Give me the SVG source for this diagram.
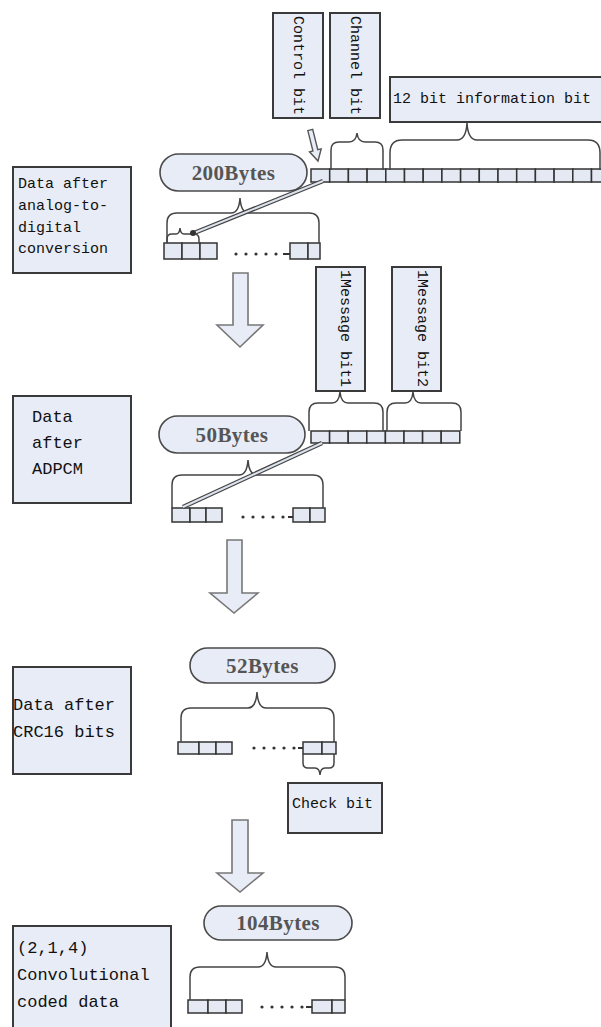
<svg xmlns="http://www.w3.org/2000/svg" width="601" height="1027" viewBox="0 0 601 1027">
<style>
.box{fill:#e8ecf6;stroke:#3a3a3a;stroke-width:2}
.stad{fill:#e8ecf6;stroke:#4a4a4a;stroke-width:1.6}
.cell{fill:#e4e9f3;stroke:#333;stroke-width:1.5}
.brace{fill:none;stroke:#444;stroke-width:1.5}
.big{fill:#e8ecf6;stroke:#777;stroke-width:1.6}
.small{fill:#e8ecf6;stroke:#555;stroke-width:1.4}
.mono{font-family:"Liberation Mono","DejaVu Sans Mono",monospace;fill:#111}
.m15{font-size:15px}
.m17{font-size:17px}
.st{font-family:"Liberation Serif","DejaVu Serif",serif;font-weight:bold;font-size:21px;fill:#555;text-anchor:middle;letter-spacing:0.4px}
.dot{fill:#333}
.dl1{stroke:#444;stroke-width:4.5;fill:none}
.dl2{stroke:#dde3ee;stroke-width:2;fill:none}
</style>
<rect width="601" height="1027" fill="#ffffff"/>

<!-- Stage 1 -->
<g id="control-bit">
<rect class="box" x="273" y="13" width="50" height="105"/>
<text class="mono m15" transform="translate(294,16) rotate(90)">Control bit</text>
</g>
<g id="channel-bit">
<rect class="box" x="330" y="13" width="50" height="105"/>
<text class="mono m15" transform="translate(351,16) rotate(90)">Channel bit</text>
</g>
<g id="info-bit">
<rect class="box" x="390" y="77" width="215" height="45"/>
<text class="mono m15" x="393" y="103">12 bit information bit</text>
</g>
<g id="label-adc">
<rect class="box" x="13" y="167" width="118" height="106"/>
<text class="mono m15" x="18" y="188">Data after</text>
<text class="mono m15" x="18" y="210">analog-to-</text>
<text class="mono m15" x="18" y="232">digital</text>
<text class="mono m15" x="18" y="253">conversion</text>
</g>
<g id="bytes200">
<rect class="stad" x="160" y="154" width="147" height="37" rx="18.5"/>
<text class="st" x="233.5" y="180">200Bytes</text>
</g>
<g id="row-sample">
<rect class="cell" x="311" y="169" width="18.7" height="13"/>
<rect class="cell" x="329.7" y="169" width="18.7" height="13"/>
<rect class="cell" x="348.4" y="169" width="18.7" height="13"/>
<rect class="cell" x="367.1" y="169" width="18.7" height="13"/>
<rect class="cell" x="385.8" y="169" width="18.7" height="13"/>
<rect class="cell" x="404.5" y="169" width="18.7" height="13"/>
<rect class="cell" x="423.2" y="169" width="18.7" height="13"/>
<rect class="cell" x="441.9" y="169" width="18.7" height="13"/>
<rect class="cell" x="460.6" y="169" width="18.7" height="13"/>
<rect class="cell" x="479.3" y="169" width="18.7" height="13"/>
<rect class="cell" x="498" y="169" width="18.7" height="13"/>
<rect class="cell" x="516.7" y="169" width="18.7" height="13"/>
<rect class="cell" x="535.4" y="169" width="18.7" height="13"/>
<rect class="cell" x="554.1" y="169" width="18.7" height="13"/>
<rect class="cell" x="572.8" y="169" width="18.7" height="13"/>
<rect class="cell" x="591.5" y="169" width="18.7" height="13"/>
</g>
<g id="row-200">
<rect class="cell" x="164" y="243" width="18" height="16"/>
<rect class="cell" x="182" y="243" width="18" height="16"/>
<rect class="cell" x="200" y="243" width="17" height="16"/>
<circle class="dot" cx="236" cy="254" r="1.6"/>
<circle class="dot" cx="246" cy="254" r="1.6"/>
<circle class="dot" cx="256" cy="254" r="1.6"/>
<circle class="dot" cx="266" cy="254" r="1.6"/>
<circle class="dot" cx="276" cy="254" r="1.6"/>
<line x1="283" y1="254" x2="290" y2="254" stroke="#333" stroke-width="2"/>
<rect class="cell" x="290" y="243" width="18" height="16"/>
<rect class="cell" x="308" y="243" width="12" height="16"/>
</g>

<!-- Stage 2 -->
<g id="msg-bit1">
<rect class="box" x="316" y="267" width="49" height="124"/>
<text class="mono m15" transform="translate(341,270) rotate(90)">1Message bit1</text>
</g>
<g id="msg-bit2">
<rect class="box" x="392" y="267" width="49" height="124"/>
<text class="mono m15" transform="translate(418,270) rotate(90)">1Message bit2</text>
</g>
<g id="label-adpcm">
<rect class="box" x="13" y="396" width="118" height="107"/>
<text class="mono m17" x="32" y="422">Data</text>
<text class="mono m17" x="32" y="448">after</text>
<text class="mono m17" x="32" y="474">ADPCM</text>
</g>
<g id="bytes50">
<rect class="stad" x="159" y="416" width="146" height="37" rx="18.5"/>
<text class="st" x="232" y="442">50Bytes</text>
</g>
<g id="row-adpcm-sample">
<rect class="cell" x="311" y="431" width="18.6" height="12"/>
<rect class="cell" x="329.6" y="431" width="18.6" height="12"/>
<rect class="cell" x="348.2" y="431" width="18.6" height="12"/>
<rect class="cell" x="366.8" y="431" width="18.6" height="12"/>
<rect class="cell" x="385.4" y="431" width="18.6" height="12"/>
<rect class="cell" x="404" y="431" width="18.6" height="12"/>
<rect class="cell" x="422.6" y="431" width="18.6" height="12"/>
<rect class="cell" x="441.2" y="431" width="18.6" height="12"/>
</g>
<g id="row-50">
<rect class="cell" x="172" y="508" width="18" height="14"/>
<rect class="cell" x="190" y="508" width="16" height="14"/>
<rect class="cell" x="206" y="508" width="16" height="14"/>
<circle class="dot" cx="243" cy="517" r="1.6"/>
<circle class="dot" cx="253" cy="517" r="1.6"/>
<circle class="dot" cx="263" cy="517" r="1.6"/>
<circle class="dot" cx="273" cy="517" r="1.6"/>
<circle class="dot" cx="283" cy="517" r="1.6"/>
<line x1="288" y1="517" x2="293" y2="517" stroke="#333" stroke-width="2"/>
<rect class="cell" x="293" y="508" width="17" height="14"/>
<rect class="cell" x="310" y="508" width="15" height="14"/>
</g>

<!-- Stage 3 -->
<g id="label-crc">
<rect class="box" x="13" y="667" width="118" height="107"/>
<text class="mono m17" x="13" y="710">Data after</text>
<text class="mono m17" x="13" y="737">CRC16 bits</text>
</g>
<g id="bytes52">
<rect class="stad" x="190" y="648" width="145" height="35" rx="17.5"/>
<text class="st" x="262.5" y="673">52Bytes</text>
</g>
<g id="row-52">
<rect class="cell" x="178" y="742" width="21" height="12"/>
<rect class="cell" x="199" y="742" width="17" height="12"/>
<rect class="cell" x="216" y="742" width="16" height="12"/>
<circle class="dot" cx="254" cy="748" r="1.6"/>
<circle class="dot" cx="264" cy="748" r="1.6"/>
<circle class="dot" cx="274" cy="748" r="1.6"/>
<circle class="dot" cx="284" cy="748" r="1.6"/>
<circle class="dot" cx="294" cy="748" r="1.6"/>
<line x1="298" y1="748" x2="303" y2="748" stroke="#333" stroke-width="2"/>
<rect class="cell" x="303" y="742" width="19" height="12"/>
<rect class="cell" x="322" y="742" width="14" height="12"/>
</g>
<g id="check-bit">
<rect class="box" x="288" y="783" width="94" height="50"/>
<text class="mono m15" x="292" y="808">Check bit</text>
</g>

<!-- Stage 4 -->
<g id="label-conv">
<rect class="box" x="13" y="926" width="158" height="110"/>
<text class="mono m17" x="17" y="953">(2,1,4)</text>
<text class="mono m17" x="17" y="980">Convolutional</text>
<text class="mono m17" x="17" y="1007">coded data</text>
</g>
<g id="bytes104">
<rect class="stad" x="204" y="906" width="148" height="34" rx="17"/>
<text class="st" x="278" y="930">104Bytes</text>
</g>
<g id="row-104">
<rect class="cell" x="188" y="1000" width="20" height="13"/>
<rect class="cell" x="208" y="1000" width="18" height="13"/>
<rect class="cell" x="226" y="1000" width="16" height="13"/>
<circle class="dot" cx="262" cy="1007" r="1.6"/>
<circle class="dot" cx="272" cy="1007" r="1.6"/>
<circle class="dot" cx="282" cy="1007" r="1.6"/>
<circle class="dot" cx="292" cy="1007" r="1.6"/>
<circle class="dot" cx="302" cy="1007" r="1.6"/>
<line x1="306" y1="1007" x2="312" y2="1007" stroke="#333" stroke-width="2"/>
<rect class="cell" x="312" y="1000" width="20" height="13"/>
<rect class="cell" x="332" y="1000" width="13" height="13"/>
</g>

<g id="connectors">
<!-- braces -->
<path class="brace" d="M331,170 V150 Q331,142 339,142 H349 Q356,142 357,133 Q358,142 365,142 H375 Q383,142 383,150 V170"/>
<path class="brace" d="M390,170 V153 Q390,140 402,140 H457 Q466,140 467,123 Q468,140 477,140 H588 Q600,140 600,153 V170"/>
<path class="brace" d="M167,243 V223 Q167,213 177,213 H231 Q239,213 240,198 Q241,213 249,213 H309 Q319,213 319,223 V243"/>
<path class="brace" d="M167,243 V239 Q167,234 172,234 H176 Q179.5,234 180,228 Q180.5,234 184,234 H194 Q199,234 199,239 V243"/>
<path class="brace" d="M309,431 V412 Q309,403 318,403 H332 Q339,403 340,392 Q341,403 348,403 H374 Q383,403 383,412 V431"/>
<path class="brace" d="M387,431 V412 Q387,403 396,403 H405 Q412,403 413,392 Q414,403 421,403 H452 Q461,403 461,412 V431"/>
<path class="brace" d="M172,508 V485 Q172,475 182,475 H239 Q247,475 248,460 Q249,475 257,475 H313 Q323,475 323,485 V508"/>
<path class="brace" d="M181,742 V718 Q181,708 191,708 H248 Q256,708 257,692 Q258,708 266,708 H324 Q334,708 334,718 V742"/>
<path class="brace" d="M303,754 V763 Q303,768 308,768 H315 Q319.5,768 320,775 Q320.5,768 325,768 H329 Q334,768 334,763 V754"/>
<path class="brace" d="M190,1000 V977 Q190,967 200,967 H258 Q266,967 267,952 Q268,967 276,967 H335 Q345,967 345,977 V1000"/>
<!-- small hollow arrow to control bit cell -->
<path class="small" transform="translate(318,161) rotate(-14)" d="M-2.5,-32 H2.5 V-11 H6 L0,0 L-6,-11 H-2.5 Z"/>
<!-- double lines -->
<line class="dl1" x1="323" y1="181" x2="194" y2="233"/>
<line class="dl2" x1="323" y1="181" x2="194" y2="233"/>
<circle cx="193" cy="233" r="3" fill="#333"/>
<line class="dl1" x1="322" y1="443" x2="183" y2="507"/>
<line class="dl2" x1="322" y1="443" x2="183" y2="507"/>
<!-- big down arrows -->
<path class="big" d="M233,273 H248 V325 H263 L240,347 L217,325 H233 Z"/>
<path class="big" d="M227,540 H242 V593 H258 L234,613 L210,593 H227 Z"/>
<path class="big" d="M232,820 H248 V873 H263 L240,892 L217,873 H232 Z"/>
</g>
</svg>
